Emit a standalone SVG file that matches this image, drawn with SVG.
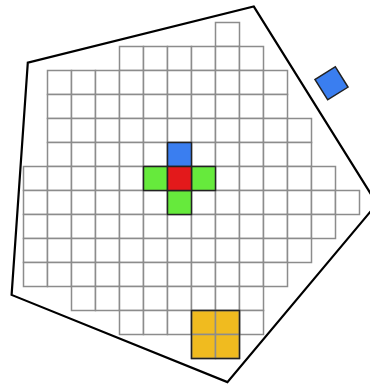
<svg xmlns="http://www.w3.org/2000/svg" width="370" height="386" viewBox="0 0 370 386">
<style>
.c{fill:#fff;stroke:#8c8c8c;stroke-width:1.5}
.y{fill:#f0bb1f;stroke:#8c8c8c;stroke-width:1.5}
.k{stroke:#222;stroke-width:1.5}
.b{fill:#3a7ef0}
.g{fill:#66ea3c}
.r{fill:#e3191b}
</style>
<rect width="370" height="386" fill="#fff"/>
<g id="pentagon"><polygon points="253.7,6.4 377,203.8 227.4,382.1 11.6,294.9 27.8,62.7" fill="none" stroke="#000" stroke-width="2.2" stroke-linejoin="miter"/></g>
<g id="grid">
<g id="r0"><rect class="c" x="215.5" y="22.5" width="24" height="24"/></g>
<g id="r1"><rect class="c" x="119.5" y="46.5" width="24" height="24"/><rect class="c" x="143.5" y="46.5" width="24" height="24"/><rect class="c" x="167.5" y="46.5" width="24" height="24"/><rect class="c" x="191.5" y="46.5" width="24" height="24"/><rect class="c" x="215.5" y="46.5" width="24" height="24"/><rect class="c" x="239.5" y="46.5" width="24" height="24"/></g>
<g id="r2"><rect class="c" x="47.5" y="70.5" width="24" height="24"/><rect class="c" x="71.5" y="70.5" width="24" height="24"/><rect class="c" x="95.5" y="70.5" width="24" height="24"/><rect class="c" x="119.5" y="70.5" width="24" height="24"/><rect class="c" x="143.5" y="70.5" width="24" height="24"/><rect class="c" x="167.5" y="70.5" width="24" height="24"/><rect class="c" x="191.5" y="70.5" width="24" height="24"/><rect class="c" x="215.5" y="70.5" width="24" height="24"/><rect class="c" x="239.5" y="70.5" width="24" height="24"/><rect class="c" x="263.5" y="70.5" width="24" height="24"/></g>
<g id="r3"><rect class="c" x="47.5" y="94.5" width="24" height="24"/><rect class="c" x="71.5" y="94.5" width="24" height="24"/><rect class="c" x="95.5" y="94.5" width="24" height="24"/><rect class="c" x="119.5" y="94.5" width="24" height="24"/><rect class="c" x="143.5" y="94.5" width="24" height="24"/><rect class="c" x="167.5" y="94.5" width="24" height="24"/><rect class="c" x="191.5" y="94.5" width="24" height="24"/><rect class="c" x="215.5" y="94.5" width="24" height="24"/><rect class="c" x="239.5" y="94.5" width="24" height="24"/><rect class="c" x="263.5" y="94.5" width="24" height="24"/></g>
<g id="r4"><rect class="c" x="47.5" y="118.5" width="24" height="24"/><rect class="c" x="71.5" y="118.5" width="24" height="24"/><rect class="c" x="95.5" y="118.5" width="24" height="24"/><rect class="c" x="119.5" y="118.5" width="24" height="24"/><rect class="c" x="143.5" y="118.5" width="24" height="24"/><rect class="c" x="167.5" y="118.5" width="24" height="24"/><rect class="c" x="191.5" y="118.5" width="24" height="24"/><rect class="c" x="215.5" y="118.5" width="24" height="24"/><rect class="c" x="239.5" y="118.5" width="24" height="24"/><rect class="c" x="263.5" y="118.5" width="24" height="24"/><rect class="c" x="287.5" y="118.5" width="24" height="24"/></g>
<g id="r5"><rect class="c" x="47.5" y="142.5" width="24" height="24"/><rect class="c" x="71.5" y="142.5" width="24" height="24"/><rect class="c" x="95.5" y="142.5" width="24" height="24"/><rect class="c" x="119.5" y="142.5" width="24" height="24"/><rect class="c" x="143.5" y="142.5" width="24" height="24"/><rect class="c" x="167.5" y="142.5" width="24" height="24"/><rect class="c" x="191.5" y="142.5" width="24" height="24"/><rect class="c" x="215.5" y="142.5" width="24" height="24"/><rect class="c" x="239.5" y="142.5" width="24" height="24"/><rect class="c" x="263.5" y="142.5" width="24" height="24"/><rect class="c" x="287.5" y="142.5" width="24" height="24"/></g>
<g id="r6"><rect class="c" x="23.5" y="166.5" width="24" height="24"/><rect class="c" x="47.5" y="166.5" width="24" height="24"/><rect class="c" x="71.5" y="166.5" width="24" height="24"/><rect class="c" x="95.5" y="166.5" width="24" height="24"/><rect class="c" x="119.5" y="166.5" width="24" height="24"/><rect class="c" x="143.5" y="166.5" width="24" height="24"/><rect class="c" x="167.5" y="166.5" width="24" height="24"/><rect class="c" x="191.5" y="166.5" width="24" height="24"/><rect class="c" x="215.5" y="166.5" width="24" height="24"/><rect class="c" x="239.5" y="166.5" width="24" height="24"/><rect class="c" x="263.5" y="166.5" width="24" height="24"/><rect class="c" x="287.5" y="166.5" width="24" height="24"/><rect class="c" x="311.5" y="166.5" width="24" height="24"/></g>
<g id="r7"><rect class="c" x="23.5" y="190.5" width="24" height="24"/><rect class="c" x="47.5" y="190.5" width="24" height="24"/><rect class="c" x="71.5" y="190.5" width="24" height="24"/><rect class="c" x="95.5" y="190.5" width="24" height="24"/><rect class="c" x="119.5" y="190.5" width="24" height="24"/><rect class="c" x="143.5" y="190.5" width="24" height="24"/><rect class="c" x="167.5" y="190.5" width="24" height="24"/><rect class="c" x="191.5" y="190.5" width="24" height="24"/><rect class="c" x="215.5" y="190.5" width="24" height="24"/><rect class="c" x="239.5" y="190.5" width="24" height="24"/><rect class="c" x="263.5" y="190.5" width="24" height="24"/><rect class="c" x="287.5" y="190.5" width="24" height="24"/><rect class="c" x="311.5" y="190.5" width="24" height="24"/><rect class="c" x="335.5" y="190.5" width="24" height="24"/></g>
<g id="r8"><rect class="c" x="23.5" y="214.5" width="24" height="24"/><rect class="c" x="47.5" y="214.5" width="24" height="24"/><rect class="c" x="71.5" y="214.5" width="24" height="24"/><rect class="c" x="95.5" y="214.5" width="24" height="24"/><rect class="c" x="119.5" y="214.5" width="24" height="24"/><rect class="c" x="143.5" y="214.5" width="24" height="24"/><rect class="c" x="167.5" y="214.5" width="24" height="24"/><rect class="c" x="191.5" y="214.5" width="24" height="24"/><rect class="c" x="215.5" y="214.5" width="24" height="24"/><rect class="c" x="239.5" y="214.5" width="24" height="24"/><rect class="c" x="263.5" y="214.5" width="24" height="24"/><rect class="c" x="287.5" y="214.5" width="24" height="24"/><rect class="c" x="311.5" y="214.5" width="24" height="24"/></g>
<g id="r9"><rect class="c" x="23.5" y="238.5" width="24" height="24"/><rect class="c" x="47.5" y="238.5" width="24" height="24"/><rect class="c" x="71.5" y="238.5" width="24" height="24"/><rect class="c" x="95.5" y="238.5" width="24" height="24"/><rect class="c" x="119.5" y="238.5" width="24" height="24"/><rect class="c" x="143.5" y="238.5" width="24" height="24"/><rect class="c" x="167.5" y="238.5" width="24" height="24"/><rect class="c" x="191.5" y="238.5" width="24" height="24"/><rect class="c" x="215.5" y="238.5" width="24" height="24"/><rect class="c" x="239.5" y="238.5" width="24" height="24"/><rect class="c" x="263.5" y="238.5" width="24" height="24"/><rect class="c" x="287.5" y="238.5" width="24" height="24"/></g>
<g id="r10"><rect class="c" x="23.5" y="262.5" width="24" height="24"/><rect class="c" x="47.5" y="262.5" width="24" height="24"/><rect class="c" x="71.5" y="262.5" width="24" height="24"/><rect class="c" x="95.5" y="262.5" width="24" height="24"/><rect class="c" x="119.5" y="262.5" width="24" height="24"/><rect class="c" x="143.5" y="262.5" width="24" height="24"/><rect class="c" x="167.5" y="262.5" width="24" height="24"/><rect class="c" x="191.5" y="262.5" width="24" height="24"/><rect class="c" x="215.5" y="262.5" width="24" height="24"/><rect class="c" x="239.5" y="262.5" width="24" height="24"/><rect class="c" x="263.5" y="262.5" width="24" height="24"/></g>
<g id="r11"><rect class="c" x="71.5" y="286.5" width="24" height="24"/><rect class="c" x="95.5" y="286.5" width="24" height="24"/><rect class="c" x="119.5" y="286.5" width="24" height="24"/><rect class="c" x="143.5" y="286.5" width="24" height="24"/><rect class="c" x="167.5" y="286.5" width="24" height="24"/><rect class="c" x="191.5" y="286.5" width="24" height="24"/><rect class="c" x="215.5" y="286.5" width="24" height="24"/><rect class="c" x="239.5" y="286.5" width="24" height="24"/></g>
<g id="r12"><rect class="c" x="119.5" y="310.5" width="24" height="24"/><rect class="c" x="143.5" y="310.5" width="24" height="24"/><rect class="c" x="167.5" y="310.5" width="24" height="24"/><rect class="c" x="239.5" y="310.5" width="24" height="24"/></g>
</g>
<g id="yellow-block">
<rect class="y" x="191.5" y="310.5" width="24" height="24"/><rect class="y" x="215.5" y="310.5" width="24" height="24"/><rect class="y" x="191.5" y="334.5" width="24" height="24"/><rect class="y" x="215.5" y="334.5" width="24" height="24"/>
<rect x="191.5" y="310.5" width="48" height="48" fill="none" class="k"/>
</g>
<g id="cross">
<rect class="b k" x="167.5" y="142.5" width="24" height="24"/>
<rect class="g k" x="143.5" y="166.5" width="24" height="24"/>
<rect class="g k" x="191.5" y="166.5" width="24" height="24"/>
<rect class="g k" x="167.5" y="190.5" width="24" height="24"/>
<rect class="r k" x="167.5" y="166.5" width="24" height="24"/>
</g>
<g id="diamond"><rect class="b k" x="-12" y="-12" width="24" height="24" transform="translate(331.5,83.3) rotate(-32)"/></g>
</svg>
